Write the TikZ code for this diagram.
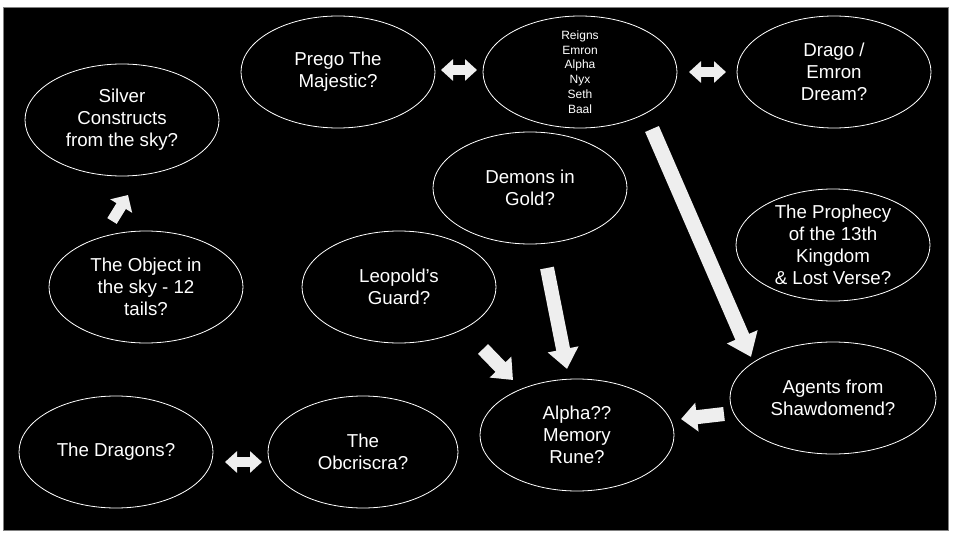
\documentclass[tikz,border=0pt]{standalone}
\usepackage{fontspec}
\setmainfont{Liberation Sans}
\usetikzlibrary{shapes.geometric,arrows.meta}
\definecolor{arrowfill}{RGB}{238,238,238}
\tikzset{
  oval/.style={ellipse, draw=white, line width=0.8pt, fill=black,
    minimum width=194pt, minimum height=112pt, inner sep=0pt},
  txt/.style={text=white, align=center, font=\fontsize{18.7}{22}\selectfont, inner sep=0pt},
  smalltxt/.style={text=white, align=center, font=\fontsize{12}{14.7}\selectfont, inner sep=0pt},
  blockarrow/.style={draw=arrowfill, line width=14pt, -{Triangle[width=30pt,length=20pt]}},
  smallarrow/.style={draw=arrowfill, line width=11pt, -{Triangle[width=25pt,length=13pt]}},
  dblarrow/.style={draw=arrowfill, line width=10pt,
    {Triangle[width=21pt,length=12pt]}-{Triangle[width=21pt,length=12pt]}}
}
\begin{document}
\begin{tikzpicture}[x=1pt,y=-1pt]
\useasboundingbox (0,0) rectangle (960,540);
\fill[white] (0,0) rectangle (960,540);
\fill[black] (3,7) rectangle (948,530);
\draw[gray, line width=0.8pt] (3,7) rectangle (948,530);

\node[oval, label={[txt]center:{Silver\\Constructs\\from the sky?}}] (silver) at (122,120) {};
\node[oval, label={[txt]center:{Prego The\\Majestic?}}] (prego) at (338,72) {};
\node[oval, label={[smalltxt]center:{Reigns\\Emron\\Alpha\\Nyx\\Seth\\Baal}}] (reigns) at (580,72) {};
\node[oval, label={[txt]center:{Drago /\\Emron\\Dream?}}] (drago) at (834,72) {};
\node[oval, label={[txt]center:{Demons in\\Gold?}}] (demons) at (530,188) {};
\node[oval, label={[txt]center:{The Prophecy\\of the 13th\\Kingdom\\\& Lost Verse?}}] (prophecy) at (833,245) {};
\node[oval, label={[txt]center:{The Object in\\the sky - 12\\tails?}}] (object) at (146,287) {};
\node[oval, label={[txt]center:{Leopold’s\\Guard?}}] (leopold) at (399,287) {};
\node[oval, minimum width=206pt, label={[txt]center:{Agents from\\Shawdomend?}}] (agents) at (833,398) {};
\node[oval, label={[txt]center:{Alpha??\\Memory\\Rune?}}] (alpha) at (577,435) {};
\node[oval, label={[txt]center:{The Dragons?}}] (dragons) at (116,452) {};
\node[oval, minimum width=190pt, label={[txt]center:{The\\Obcriscra?}}] (obcriscra) at (363,452) {};

\coordinate (a1s) at (112,221); \coordinate (a1e) at (128,195);
\coordinate (a2s) at (441,70);  \coordinate (a2e) at (477,70);
\coordinate (a3s) at (689,72);  \coordinate (a3e) at (726,72);
\coordinate (a4s) at (652,129); \coordinate (a4e) at (751,357);
\coordinate (a5s) at (547,268); \coordinate (a5e) at (567,369);
\coordinate (a6s) at (483,349); \coordinate (a6e) at (513,380);
\coordinate (a7s) at (724,414); \coordinate (a7e) at (681,419);
\coordinate (a8s) at (225,462); \coordinate (a8e) at (262,462);

\draw[smallarrow] (a1s) -- (a1e);
\draw[dblarrow] (a2s) -- (a2e);
\draw[dblarrow] (a3s) -- (a3e);
\draw[blockarrow, line width=15pt, -{Triangle[width=32pt,length=22pt]}] (a4s) -- (a4e);
\draw[blockarrow] (a5s) -- (a5e);
\draw[blockarrow, -{Triangle[width=29pt,length=18pt]}] (a6s) -- (a6e);
\draw[blockarrow, -{Triangle[width=28pt,length=16pt]}] (a7s) -- (a7e);
\draw[dblarrow] (a8s) -- (a8e);
\end{tikzpicture}
\end{document}
